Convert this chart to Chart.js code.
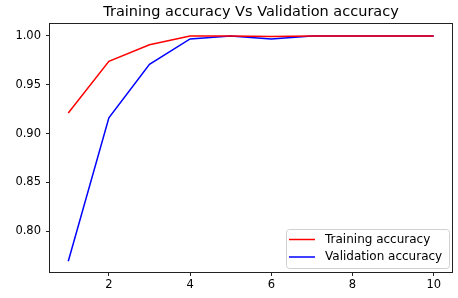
<!DOCTYPE html>
<html>
<head>
<meta charset="utf-8">
<script src="https://cdn.jsdelivr.net/npm/chart.js@4"></script>
<style>
  body { margin: 0; background: #fff; }
  #wrap { width: 458px; height: 298px; position: relative; }
</style>
</head>
<body>
<div id="wrap"><canvas id="myChart"></canvas></div>
<script>
const epochs = [1, 2, 3, 4, 5, 6, 7, 8, 9, 10];
const trainAcc = [0.921, 0.974, 0.991, 1.0, 1.0, 0.9995, 1.0, 1.0, 1.0, 1.0];
const valAcc = [0.769, 0.916, 0.971, 0.997, 1.0, 0.997, 1.0, 1.0, 1.0, 1.0];
const xTicks = [2, 4, 6, 8, 10];
const yTicks = [0.80, 0.85, 0.90, 0.95, 1.00];

const font = "'DejaVu Sans', sans-serif";

// frame around plot + matplotlib style legend box
const framePlugin = {
    id: "frame",
    afterDatasetsDraw(chart) {
        const ctx = chart.ctx;
        const a = chart.chartArea;
        ctx.save();
        ctx.strokeStyle = "#222";
        ctx.lineWidth = 1;
        ctx.strokeRect(a.left - 0.5, a.top - 0.5, a.right - a.left + 1, a.bottom - a.top + 1);

        const w = 163, h = 39;
        const x = a.right - 3 - w;
        const y = a.bottom - 4 - h;
        ctx.beginPath();
        ctx.roundRect(x + 0.5, y + 0.5, w, h, 3);
        ctx.fillStyle = "rgba(255,255,255,0.8)";
        ctx.fill();
        ctx.strokeStyle = "#d0d0d0";
        ctx.stroke();
        ctx.font = "12px " + font;
        ctx.textBaseline = "middle";
        chart.data.datasets.forEach((ds, i) => {
            const ly = y + 10.5 + i * 17.5;
            ctx.beginPath();
            ctx.moveTo(x + 3, ly);
            ctx.lineTo(x + 29, ly);
            ctx.strokeStyle = ds.borderColor;
            ctx.lineWidth = 1.5;
            ctx.stroke();
            ctx.fillStyle = "#000";
            ctx.fillText(ds.label, x + 39, ly);
        });
        ctx.restore();
    }
};

const ctx = document.getElementById("myChart");

new Chart(ctx, {
    type: "line",
    data: {
        datasets: [
            {
                label: "Training accuracy",
                data: epochs.map((e, i) => ({ x: e, y: trainAcc[i] })),
                borderColor: "#ff0000",
                borderWidth: 1.5,
                pointRadius: 0,
                tension: 0,
            },
            {
                label: "Validation accuracy",
                data: epochs.map((e, i) => ({ x: e, y: valAcc[i] })),
                borderColor: "#0000ff",
                borderWidth: 1.5,
                pointRadius: 0,
                tension: 0,
            },
        ],
    },
    options: {
        responsive: true,
        maintainAspectRatio: false,
        animation: false,
        layout: { padding: { top: 0, right: 6, bottom: 0, left: 0 } },
        plugins: {
            legend: { display: false },
            tooltip: { enabled: false },
            title: {
                display: true,
                fullSize: false,
                text: "Training accuracy Vs Validation accuracy",
                color: "#000",
                font: { family: font, size: 14.5, weight: "normal", lineHeight: "17px" },
                padding: { top: 4, bottom: 3 },
            },
        },
        scales: {
            x: {
                type: "linear",
                min: 0.55,
                max: 10.45,
                afterBuildTicks: (s) => { s.ticks = xTicks.map(v => ({ value: v })); },
                afterFit: (s) => { s.height = 26; },
                grid: { drawOnChartArea: false, drawTicks: true, tickLength: 4, color: "#222" },
                border: { display: false },
                ticks: { color: "#000", font: { family: font, size: 11.5 }, padding: 2, maxRotation: 0 },
            },
            y: {
                min: 0.758,
                max: 1.0123,
                afterBuildTicks: (s) => { s.ticks = yTicks.map(v => ({ value: v })); },
                afterFit: (s) => { s.width = 50; },
                grid: { drawOnChartArea: false, drawTicks: true, tickLength: 4, color: "#222" },
                border: { display: false },
                ticks: {
                    color: "#000",
                    font: { family: font, size: 11.5 },
                    padding: 5,
                    callback: (v) => v.toFixed(2),
                },
            },
        },
    },
    plugins: [framePlugin],
});
</script>
</body>
</html>
